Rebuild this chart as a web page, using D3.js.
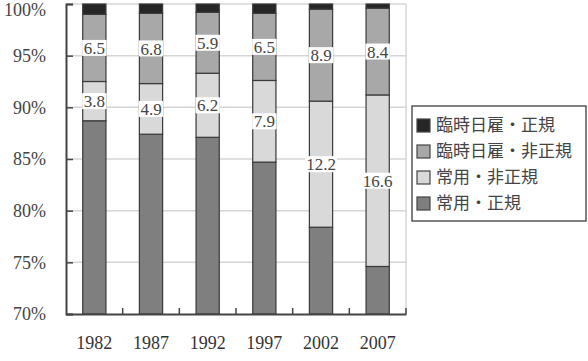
<!DOCTYPE html>
<html>
<head>
<meta charset="utf-8">
<script src="https://cdn.jsdelivr.net/npm/d3@7"></script>
<style>
  body { margin: 0; background: #fff; }
</style>
</head>
<body>
<div id="chart"></div>
<script>
var svgWidth = 588;
var svgHeight = 361;

// data (percent of employees)
var years = ["1982", "1987", "1992", "1997", "2002", "2007"];
var seriesNames = ["常用・正規", "常用・非正規", "臨時日雇・非正規", "臨時日雇・正規"];
var joyoSeiki = [88.7, 87.4, 87.1, 84.7, 78.4, 74.6];
var joyoHiseiki = [3.8, 4.9, 6.2, 7.9, 12.2, 16.6];
var rinjiHiseiki = [6.5, 6.8, 5.9, 6.5, 8.9, 8.4];
var rinjiSeiki = [1.0, 0.9, 0.8, 0.9, 0.5, 0.4];
var yTicks = [70, 75, 80, 85, 90, 95, 100];
var colors = ["#7f7f7f", "#d9d9d9", "#a8a8a8", "#262626"];

var margin = { top: 4, right: 182, bottom: 47, left: 66 };
var width = svgWidth - margin.left - margin.right;
var height = svgHeight - margin.top - margin.bottom;

var svg = d3.select("#chart")
  .append("svg")
  .attr("width", svgWidth)
  .attr("height", svgHeight);

var g = svg.append("g")
  .attr("transform", `translate(${margin.left}, ${margin.top})`);

var rows = years.map(function(y, i) {
  return { year: y, s0: joyoSeiki[i], s1: joyoHiseiki[i], s2: rinjiHiseiki[i], s3: rinjiSeiki[i] };
});
var stacked = d3.stack().keys(["s0", "s1", "s2", "s3"])(rows);

var x = d3.scaleBand().domain(years).range([0, width]).paddingInner(0.59).paddingOuter(0.295);
var y = d3.scaleLinear().domain([70, 100]).range([height, 0]).clamp(true);

// grid
g.selectAll(".grid")
  .data(yTicks.slice(1))
  .enter()
  .append("line")
  .attr("x1", 0)
  .attr("x2", width)
  .attr("y1", d => y(d))
  .attr("y2", d => y(d))
  .attr("stroke", "#d6d6d6")
  .attr("stroke-width", 1.5);
g.append("line")
  .attr("x1", width).attr("x2", width)
  .attr("y1", 0).attr("y2", height)
  .attr("stroke", "#d6d6d6")
  .attr("stroke-width", 1.5);

// bars
stacked.forEach(function(layer, k) {
  g.selectAll(".seg" + k)
    .data(layer)
    .enter()
    .append("rect")
    .attr("x", d => x(d.data.year))
    .attr("width", x.bandwidth())
    .attr("y", d => y(d[1]))
    .attr("height", d => y(d[0]) - y(d[1]))
    .attr("fill", colors[k])
    .attr("stroke", "#3a3a3a")
    .attr("stroke-width", 1.2);
});

// value labels on middle layers
[1, 2].forEach(function(k) {
  var lab = g.selectAll(".lab" + k)
    .data(stacked[k])
    .enter()
    .append("g")
    .attr("transform", d => `translate(${x(d.data.year) + x.bandwidth() / 2}, ${y((d[0] + d[1]) / 2)})`);
  lab.append("text")
    .attr("text-anchor", "middle")
    .attr("dy", "0.36em")
    .attr("font-family", "Liberation Serif, serif")
    .attr("font-size", "17px")
    .attr("fill", "#444")
    .text(d => (d[1] - d[0]).toFixed(1));
  lab.each(function() {
    var t = d3.select(this).select("text");
    var b = t.node().getBBox();
    var w = Math.max(x.bandwidth() + 1.2, b.width + 2);
    d3.select(this).insert("rect", "text")
      .attr("x", -w / 2)
      .attr("y", -8)
      .attr("width", w)
      .attr("height", 16)
      .attr("fill", "#fff");
  });
});

// axes
var yAxis = d3.axisLeft(y).tickValues(yTicks).tickSize(-7).tickFormat(d => d + "%").tickPadding(20);
var yg = g.append("g").call(yAxis);
yg.select(".domain").attr("stroke", "#444").attr("stroke-width", 2);
yg.selectAll(".tick line").attr("stroke", "#444").attr("stroke-width", 1.5);
yg.selectAll("text")
  .attr("font-family", "Liberation Serif, serif")
  .attr("font-size", "18px")
  .attr("fill", "#444");
// keep the top label inside the page
yg.selectAll(".tick text").filter(d => d === 100).attr("dy", "0.62em");

var xAxis = d3.axisBottom(x).tickSize(0).tickPadding(22);
var xg = g.append("g").attr("transform", `translate(0, ${height})`).call(xAxis);
xg.select(".domain").attr("stroke", "#444").attr("stroke-width", 2);
xg.selectAll("text")
  .attr("font-family", "Liberation Serif, serif")
  .attr("font-size", "18px")
  .attr("fill", "#333");

// small ticks between categories
var step = x.step();
g.selectAll(".xtick")
  .data(d3.range(1, years.length + 1))
  .enter()
  .append("line")
  .attr("x1", d => d * step)
  .attr("x2", d => d * step)
  .attr("y1", height)
  .attr("y2", height - 6)
  .attr("stroke", "#444")
  .attr("stroke-width", 1.5);

// legend
var legend = svg.append("g").attr("transform", "translate(412, 106)");
legend.append("rect")
  .attr("width", 174)
  .attr("height", 115)
  .attr("fill", "#fff")
  .attr("stroke", "#555")
  .attr("stroke-width", 1.5);
var order = [3, 2, 1, 0];
var items = legend.selectAll(".item")
  .data(order)
  .enter()
  .append("g")
  .attr("transform", (d, i) => `translate(5, ${19 + i * 26})`);
items.append("rect")
  .attr("x", 0)
  .attr("y", -6)
  .attr("width", 13)
  .attr("height", 13)
  .attr("fill", d => colors[d])
  .attr("stroke", "#444")
  .attr("stroke-width", 1.2);
items.append("text")
  .attr("x", 19)
  .attr("dy", "0.35em")
  .attr("font-family", "Noto Sans CJK JP, sans-serif")
  .attr("font-size", "17px")
  .attr("fill", "#444")
  .text(d => seriesNames[d]);
</script>
</body>
</html>
